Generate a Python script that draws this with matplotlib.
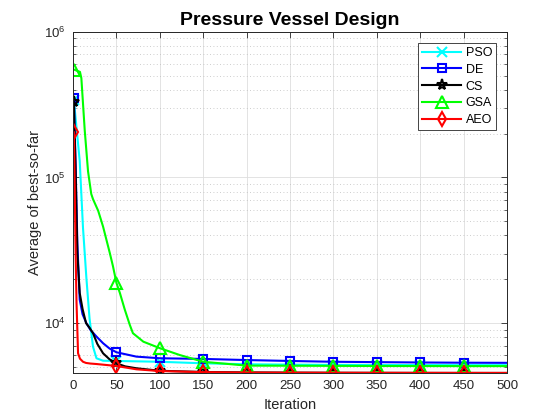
import matplotlib
matplotlib.use("Agg")
import matplotlib.pyplot as plt
from matplotlib.ticker import LogLocator, NullFormatter

plt.rcParams['font.family'] = ['Liberation Sans', 'DejaVu Sans']
plt.rcParams['mathtext.fontset'] = 'custom'
plt.rcParams['mathtext.rm'] = 'Liberation Sans'

title = "Pressure Vessel Design"
xlabel = "Iteration"
ylabel = "Average of best-so-far"
names = ["PSO", "DE", "CS", "GSA", "AEO"]

pso_it = [1, 4, 7.7, 11.5, 15.4, 19, 23, 27, 34.6, 50, 100, 150, 200, 250, 300, 350, 400, 450, 500]
pso_val = [3.4e5, 2.2e5, 1.3e5, 4.5e4, 2.04e4, 1.08e4, 6900, 5740, 5520, 5500, 5430, 5300, 5220,
           5190, 5170, 5160, 5155, 5150, 5150]

de_it = [1, 3, 5, 7.7, 11, 15.4, 20, 27, 34.6, 42, 50, 73, 100, 150, 200, 250, 300, 350, 400, 450, 500]
de_val = [3.5e5, 1.2e5, 3.5e4, 1.45e4, 1.15e4, 1.0e4, 9000, 8090, 7280, 6700, 6310, 5890, 5740,
          5680, 5580, 5500, 5430, 5400, 5370, 5350, 5340]

cs_it = [1, 3, 5, 7.7, 11, 15, 19, 23, 28, 34.6, 42, 50, 60, 73, 100, 150, 200, 250, 300, 350, 400, 450, 500]
cs_val = [3.3e5, 1.1e5, 3.0e4, 1.61e4, 1.25e4, 1.0e4, 9300, 8530, 7200, 6210, 5650, 5300, 5050,
          4900, 4710, 4620, 4590, 4575, 4565, 4560, 4555, 4552, 4550]

gsa_it = [1, 8, 9.6, 13.5, 17.3, 21, 23, 29, 34.6, 42.3, 46, 50, 54, 59.6, 65.4, 69, 81, 100, 123,
          150, 200, 250, 300, 350, 400, 450, 500]
gsa_val = [5.5e5, 5.3e5, 4.8e5, 2.1e5, 1.1e5, 7.7e4, 7.1e4, 5.9e4, 4.6e4, 3.04e4, 2.46e4, 1.89e4,
           1.61e4, 1.24e4, 9730, 8530, 7460, 6730, 6040, 5430, 5110, 5100, 5090, 5080, 5075, 5070, 5070]

aeo_it = [1, 2, 3, 4, 5.8, 8, 11.5, 15, 20, 27, 40, 50, 73, 100, 150, 200, 250, 300, 350, 400, 450, 500]
aeo_val = [2.04e5, 8.0e4, 3.0e4, 1.4e4, 6210, 5700, 5430, 5330, 5280, 5240, 5150, 5080, 4820,
           4690, 4610, 4580, 4570, 4565, 4560, 4558, 4555, 4553]

marker_iters = [1, 50, 100, 150, 200, 250, 300, 350, 400, 450]

series = [
    (pso_it, pso_val, '#00ffff', 'x', 7),
    (de_it, de_val, '#0000ff', 's', 6),
    (cs_it, cs_val, '#000000', '*', 8),
    (gsa_it, gsa_val, '#00ff00', '^', 9),
    (aeo_it, aeo_val, '#ff0000', 'd', 7),
]

fig = plt.figure(figsize=(5.6, 4.2), dpi=100)
ax = fig.add_axes([0.1304, 0.111, 0.7750, 0.8135])

for name, (it, val, col, mk, ms) in zip(names, series):
    idx = [i for i, x in enumerate(it) if x in marker_iters]
    ax.plot(it, val, color=col, lw=1.5, marker=mk, ms=ms, markevery=idx,
            mfc='none', mec=col, mew=1.5, label=name)

ax.set_yscale('log')
ax.set_xlim(0, 500)
ax.set_ylim(4520, 1e6)
ax.set_xticks([0, 50, 100, 150, 200, 250, 300, 350, 400, 450, 500])
ax.yaxis.set_major_locator(LogLocator(base=10, numticks=10))
ax.yaxis.set_minor_locator(LogLocator(base=10, subs=range(2, 10), numticks=20))
ax.yaxis.set_minor_formatter(NullFormatter())

gc = '#262626'
ax.tick_params(which='both', direction='in', top=True, right=True, colors=gc, labelsize=9.5,
               labelcolor=gc)
ax.tick_params(which='major', length=4, width=0.6, pad=5)
ax.tick_params(which='minor', length=2.5, width=0.5)
for s in ax.spines.values():
    s.set_color(gc)
    s.set_linewidth(0.7)

ax.grid(True, which='major', color='#dedede', lw=0.6, ls='-')
ax.grid(True, which='minor', axis='y', color='#bdbdbd', lw=0.6, ls=(0, (1, 3)))
ax.set_axisbelow(True)

ax.set_title(title, fontsize=14, fontweight='bold', pad=5)
ax.set_xlabel(xlabel, fontsize=10.5, color=gc, labelpad=4)
ax.set_ylabel(ylabel, fontsize=10.5, color=gc, labelpad=2)

leg = ax.legend(loc='upper right', bbox_to_anchor=(0.9755, 0.968), borderaxespad=0,
                fontsize=9, frameon=True, fancybox=False, edgecolor='#262626', framealpha=1,
                handlelength=3.1, borderpad=0.35, labelspacing=0.38, handletextpad=0.35)
leg.get_frame().set_linewidth(0.6)

fig.savefig('out.png', dpi=100)
